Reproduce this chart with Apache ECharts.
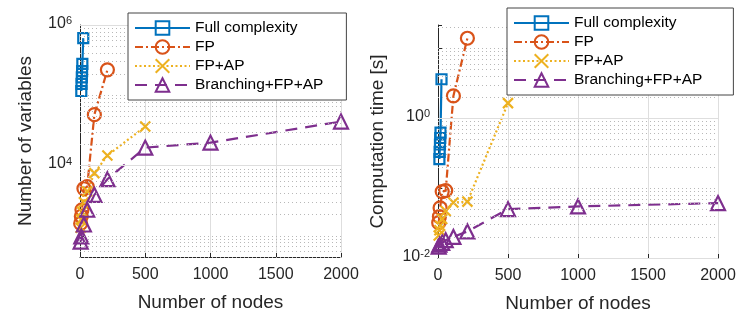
<!DOCTYPE html>
<html><head><meta charset="utf-8">
<script src="https://cdn.jsdelivr.net/npm/echarts@6/dist/echarts.min.js"></script>
<style>html,body{margin:0;padding:0;background:#fff}#c{width:747px;height:319px}</style>
</head><body><div id="c"></div>
<script>
// ---- data ----
const seriesNames = ['Full complexity', 'FP', 'FP+AP', 'Branching+FP+AP'];
const xTicks = [0, 500, 1000, 1500, 2000];

const fullNodes = [10, 12, 14, 16, 18, 25];
const fullVars  = [115000, 145000, 180000, 220000, 280000, 650000];
const fullTime  = [0.26, 0.33, 0.42, 0.52, 0.62, 3.6];

const fpNodes = [5, 10, 15, 30, 55, 110, 210];
const fpVars  = [1500, 1900, 2350, 4700, 5000, 53000, 230000];
const fpTime  = [0.032, 0.039, 0.052, 0.089, 0.092, 2.08, 13.9];

const fpapNodes = [5, 10, 15, 30, 55, 110, 210, 500];
const fpapVars  = [1300, 1700, 2200, 3000, 4300, 7800, 13900, 35900];
const fpapTime  = [0.021, 0.025, 0.029, 0.036, 0.047, 0.062, 0.064, 1.64];

const brNodes = [5, 10, 30, 55, 110, 210, 500, 1000, 2000];
const brVars  = [830, 980, 1450, 2350, 3830, 6400, 18000, 21200, 42300];
const brTime  = [0.0145, 0.0155, 0.0165, 0.018, 0.020, 0.024, 0.050, 0.0546, 0.061];

// ---- style ----
const colors = ['#0072BD', '#D95319', '#EDB120', '#7E2F8E'];
const TXT = '#262626';
const FONT = '"Liberation Sans", Arial, sans-serif';
const symbols = ['rect', 'circle', 'path://M0,0L10,10M0,10L10,0', 'triangle'];
const symSizes = [10, 13, 10, 14];
const dashes = ['solid', [8, 3, 2, 3], [2, 2.5], [12, 8]];

function supFmt(v) {
  const e = Math.log10(v);
  const r = Math.round(e);
  if (Math.abs(e - r) > 1e-6 || r % 2 !== 0) return '';
  return '{b|10}{s|' + r + '}';
}
const rich = {
  b: {fontSize: 16, color: TXT, fontFamily: FONT, lineHeight: 16, verticalAlign: 'bottom'},
  s: {fontSize: 11, color: TXT, fontFamily: FONT, lineHeight: 11, verticalAlign: 'top', padding: [0, 0, 10, 0]}
};

function mk(name, nodes, vals, idx, ci) {
  return {
    name: name, type: 'line', xAxisIndex: idx, yAxisIndex: idx,
    data: nodes.map((n, i) => [n, vals[i]]),
    symbol: symbols[ci], symbolSize: symSizes[ci], showSymbol: true,
    lineStyle: {color: colors[ci], width: 2.2, type: dashes[ci]},
    itemStyle: {color: 'rgba(255,255,255,0)', borderColor: colors[ci], borderWidth: 2.2},
    z: 3, animation: false
  };
}

function gridLines(idx, minor, major) {
  const data = [];
  minor.forEach(v => data.push({yAxis: v, lineStyle: {type: [1, 3], color: '#b8b8b8', width: 1}}));
  major.forEach(v => data.push({yAxis: v, lineStyle: {type: 'solid', color: '#dedede', width: 1}}));
  return {
    name: 'grid' + idx, type: 'line', xAxisIndex: idx, yAxisIndex: idx, data: [], z: 1,
    markLine: {silent: true, symbol: 'none', label: {show: false}, animation: false, data: data}
  };
}
function minorVals(lo, hi, major) {
  const out = [];
  for (let d = -3; d <= 7; d++) {
    for (let k = 1; k <= 9; k++) {
      const v = k * Math.pow(10, d);
      if (v >= lo * 0.999 && v <= hi * 1.001 && !major.some(m => Math.abs(m - v) / m < 1e-6)) out.push(v);
    }
  }
  return out;
}
const majL = [1e4, 1e6], majR = [0.01, 1];

function xAx(idx) {
  return {
    type: 'value', gridIndex: idx, min: 0, max: 2000, interval: 500,
    name: 'Number of nodes', nameLocation: 'middle', nameGap: 36,
    nameTextStyle: {fontSize: 19, color: TXT, fontFamily: FONT},
    axisLine: {show: true, onZero: false, lineStyle: {color: TXT, width: 1}},
    axisTick: {show: true, inside: true, length: 4, lineStyle: {color: TXT}},
    axisLabel: {fontSize: 16, color: TXT, fontFamily: FONT, margin: 10, formatter: v => String(v)},
    splitLine: {show: true, lineStyle: {color: '#dedede', width: 1}}
  };
}
function yAx(idx, min, max, name, gap) {
  return {
    type: 'log', logBase: 10, gridIndex: idx, min: min, max: max,
    name: name, nameLocation: 'middle', nameGap: gap,
    nameTextStyle: {fontSize: 19, color: TXT, fontFamily: FONT},
    axisLine: {show: true, lineStyle: {color: TXT, width: 1}},
    axisTick: {show: true, inside: true, length: 4, lineStyle: {color: TXT}},
    axisLabel: {formatter: supFmt, rich: rich, margin: 8, padding: [0, 0, 3, 0], showMinLabel: true, showMaxLabel: true},
    splitLine: {show: false}
  };
}
function leg(left, top, padRight) {
  return {
    z: 20, zlevel: 0,
    left: left, top: top, orient: 'vertical', data: seriesNames,
    backgroundColor: '#ffffff', borderColor: '#444', borderWidth: 1,
    padding: [7, padRight, 7, 6], itemGap: 3, itemWidth: 55, itemHeight: 17,
    textStyle: {fontSize: 15.5, color: '#000', fontFamily: FONT}
  };
}

const chart = echarts.init(document.getElementById('c'), null, {renderer: 'canvas'});
chart.setOption({
  animation: false,
  backgroundColor: '#fff',
  grid: [
    {left: 80, right: 406, top: 25, bottom: 62},
    {left: 438, right: 29, top: 25, bottom: 61}
  ],
  xAxis: [xAx(0), xAx(1)],
  yAxis: [yAx(0, 500, 1e6, 'Number of variables', 45), yAx(1, 0.01, 21.5, 'Computation time [s]', 51)],
  legend: [leg(128, 13, 23), leg(507, 8, 31)],
  series: [
    gridLines(0, minorVals(500, 1e6, majL), majL),
    gridLines(1, minorVals(0.01, 21.5, majR), majR),
    mk(seriesNames[0], fullNodes, fullVars, 0, 0),
    mk(seriesNames[1], fpNodes, fpVars, 0, 1),
    mk(seriesNames[2], fpapNodes, fpapVars, 0, 2),
    mk(seriesNames[3], brNodes, brVars, 0, 3),
    mk(seriesNames[0], fullNodes, fullTime, 1, 0),
    mk(seriesNames[1], fpNodes, fpTime, 1, 1),
    mk(seriesNames[2], fpapNodes, fpapTime, 1, 2),
    mk(seriesNames[3], brNodes, brTime, 1, 3)
  ]
});
</script></body></html>
